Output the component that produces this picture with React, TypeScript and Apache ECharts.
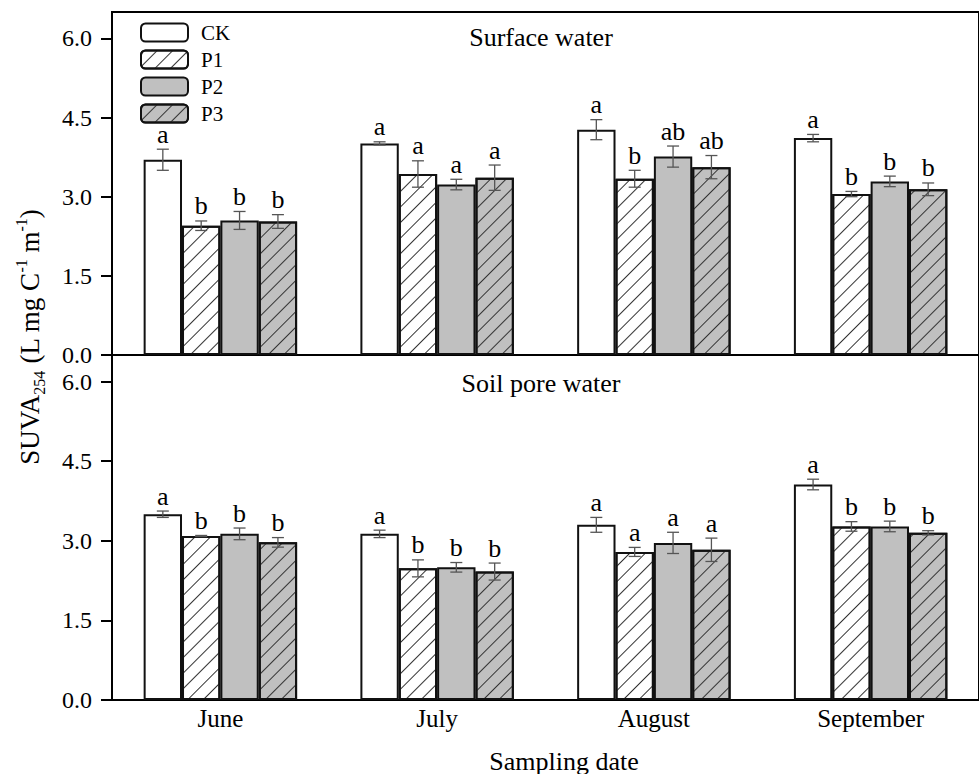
import React, { useEffect, useRef } from 'react';
import * as echarts from 'echarts';

// ---- data ----
const months = ['June', 'July', 'August', 'September'];
const treatments = ['CK', 'P1', 'P2', 'P3'];
const yTicks = [0, 1.5, 3.0, 4.5, 6.0];

// Surface water
const surfaceCK = [3.7, 4.01, 4.27, 4.11];
const surfaceP1 = [2.45, 3.43, 3.34, 3.05];
const surfaceP2 = [2.55, 3.23, 3.76, 3.29];
const surfaceP3 = [2.53, 3.36, 3.56, 3.14];
const surfaceErrCK = [0.2, 0.03, 0.19, 0.07];
const surfaceErrP1 = [0.09, 0.25, 0.16, 0.05];
const surfaceErrP2 = [0.17, 0.1, 0.2, 0.1];
const surfaceErrP3 = [0.13, 0.24, 0.22, 0.12];
const surfaceLetCK = ['a', 'a', 'a', 'a'];
const surfaceLetP1 = ['b', 'a', 'b', 'b'];
const surfaceLetP2 = ['b', 'a', 'ab', 'b'];
const surfaceLetP3 = ['b', 'a', 'ab', 'b'];

// Soil pore water
const soilCK = [3.5, 3.13, 3.3, 4.06];
const soilP1 = [3.09, 2.48, 2.79, 3.27];
const soilP2 = [3.13, 2.5, 2.96, 3.27];
const soilP3 = [2.97, 2.42, 2.83, 3.15];
const soilErrCK = [0.06, 0.07, 0.14, 0.1];
const soilErrP1 = [0.01, 0.16, 0.085, 0.09];
const soilErrP2 = [0.11, 0.09, 0.2, 0.1];
const soilErrP3 = [0.09, 0.16, 0.22, 0.04];
const soilLetCK = ['a', 'a', 'a', 'a'];
const soilLetP1 = ['b', 'b', 'a', 'b'];
const soilLetP2 = ['b', 'b', 'a', 'b'];
const soilLetP3 = ['b', 'b', 'a', 'b'];

const panelTitles = ['Surface water', 'Soil pore water'];

// ---- styles ----
const FONT = '"Liberation Serif", "Times New Roman", serif';
const BAR_RATIO = 0.177;
const fills = ['#ffffff', '#ffffff', '#c0c0c0', '#c0c0c0'];
const hatched = [false, true, false, true];

const hatch = () => ({
  symbol: 'rect',
  symbolSize: 1,
  dashArrayX: [1, 0],
  dashArrayY: [1, 9.5],
  rotation: -Math.PI / 4,
  color: '#333',
});

export default function App() {
  const ref = useRef<HTMLDivElement>(null);
  useEffect(() => {
    document.body.style.margin = '0';
    if (!ref.current) return;
    const chart = echarts.init(ref.current, null, { renderer: 'svg' });

    const panels = [
      {
        means: [surfaceCK, surfaceP1, surfaceP2, surfaceP3],
        errs: [surfaceErrCK, surfaceErrP1, surfaceErrP2, surfaceErrP3],
        lets: [surfaceLetCK, surfaceLetP1, surfaceLetP2, surfaceLetP3],
      },
      {
        means: [soilCK, soilP1, soilP2, soilP3],
        errs: [soilErrCK, soilErrP1, soilErrP2, soilErrP3],
        lets: [soilLetCK, soilLetP1, soilLetP2, soilLetP3],
      },
    ];

    const series: any[] = [];
    panels.forEach((p, g) => {
      treatments.forEach((t, ti) => {
        series.push({
          type: 'bar',
          name: t,
          xAxisIndex: g,
          yAxisIndex: g,
          data: p.means[ti],
          barWidth: (BAR_RATIO * 100).toFixed(2) + '%',
          barGap: '0%',
          silent: true,
          itemStyle: {
            color: fills[ti],
            borderColor: '#111',
            borderWidth: 2,
            decal: hatched[ti] ? hatch() : undefined,
          },
        });
      });
      treatments.forEach((t, ti) => {
        const letters = p.lets[ti];
        series.push({
          type: 'custom',
          xAxisIndex: g,
          yAxisIndex: g,
          z: 5,
          silent: true,
          data: months.map((m, i) => [i, p.means[ti][i], p.errs[ti][i]]),
          encode: { x: 0, y: 1 },
          renderItem: (params: any, api: any) => {
            const cat = api.value(0);
            const mean = api.value(1);
            const err = api.value(2);
            const band = api.size([1, 0])[0];
            const c = api.coord([cat, mean]);
            const top = api.coord([cat, mean + err])[1];
            const bot = api.coord([cat, mean - err])[1];
            const x = c[0] + (ti - 1.5) * band * BAR_RATIO;
            const cap = 6;
            const ls = { stroke: '#555', lineWidth: 1.3 };
            return {
              type: 'group',
              children: [
                { type: 'line', shape: { x1: x, y1: top, x2: x, y2: bot }, style: ls },
                { type: 'line', shape: { x1: x - cap, y1: top, x2: x + cap, y2: top }, style: ls },
                { type: 'line', shape: { x1: x - cap, y1: bot, x2: x + cap, y2: bot }, style: ls },
                {
                  type: 'text',
                  x: x,
                  y: top - 2,
                  style: {
                    text: letters[params.dataIndex],
                    fontFamily: FONT,
                    fontSize: 26,
                    fill: '#000',
                    align: 'center',
                    verticalAlign: 'bottom',
                  },
                },
              ],
            };
          },
        });
      });
    });

    const yAxis = (g: number) => ({
      type: 'value',
      gridIndex: g,
      min: 0,
      max: 6.5,
      interval: 1.5,
      axisLine: { show: true, lineStyle: { color: '#000', width: 2 } },
      axisTick: {
        show: true,
        inside: false,
        length: 11,
        customValues: yTicks,
        lineStyle: { color: '#000', width: 2 },
      },
      axisLabel: {
        customValues: yTicks,
        formatter: (v: number) => (v > 6.1 ? '' : v.toFixed(1)),
        fontSize: 24,
        fontFamily: FONT,
        color: '#000',
        margin: 20,
      },
      splitLine: { show: false },
    });

    const xAxis = (g: number) => ({
      type: 'category',
      gridIndex: g,
      data: months,
      axisLine: { show: true, lineStyle: { color: '#000', width: 2 } },
      axisTick: { show: false },
      axisLabel: {
        show: g === 1,
        fontSize: 25,
        fontFamily: FONT,
        color: '#000',
        margin: 6,
      },
    });

    chart.setOption({
      animation: false,
      backgroundColor: '#fff',
      grid: [
        { left: 112, top: 12, width: 871, height: 343, show: true, borderColor: '#000', borderWidth: 2, backgroundColor: 'transparent' },
        { left: 112, top: 355, width: 871, height: 345, show: true, borderColor: '#000', borderWidth: 2, backgroundColor: 'transparent' },
      ],
      xAxis: [xAxis(0), xAxis(1)],
      yAxis: [yAxis(0), yAxis(1)],
      legend: {
        data: treatments,
        orient: 'vertical',
        left: 135,
        top: 17,
        itemWidth: 47,
        itemHeight: 18,
        itemGap: 6,
        selectedMode: false,
        textStyle: { fontFamily: FONT, fontSize: 21, color: '#000', padding: [0, 0, 0, 8] },
      },
      graphic: [
        {
          type: 'text',
          x: 541,
          y: 37,
          style: { text: panelTitles[0], fontFamily: FONT, fontSize: 26, fill: '#000', align: 'center', verticalAlign: 'middle' },
        },
        {
          type: 'text',
          x: 541,
          y: 383,
          style: { text: panelTitles[1], fontFamily: FONT, fontSize: 26, fill: '#000', align: 'center', verticalAlign: 'middle' },
        },
        {
          type: 'text',
          x: 564,
          y: 761,
          style: { text: 'Sampling date', fontFamily: FONT, fontSize: 26, fill: '#000', align: 'center', verticalAlign: 'middle' },
        },
        {
          type: 'text',
          x: 30,
          y: 337,
          rotation: Math.PI / 2,
          style: {
            text: '{m|SUVA}{sub|254}{m| (L mg C}{sup|-1}{m| m}{sup|-1}{m|)}',
            align: 'center',
            verticalAlign: 'middle',
            fill: '#000',
            rich: {
              m: { fontFamily: FONT, fontSize: 27, lineHeight: 34, verticalAlign: 'middle', fill: '#000' },
              sub: { fontFamily: FONT, fontSize: 16, lineHeight: 34, verticalAlign: 'bottom', fill: '#000' },
              sup: { fontFamily: FONT, fontSize: 16, lineHeight: 34, verticalAlign: 'top', fill: '#000' },
            },
          },
        },
      ],
      series,
    });

    return () => chart.dispose();
  }, []);

  return <div ref={ref} style={{ width: 979, height: 774 }} />;
}
